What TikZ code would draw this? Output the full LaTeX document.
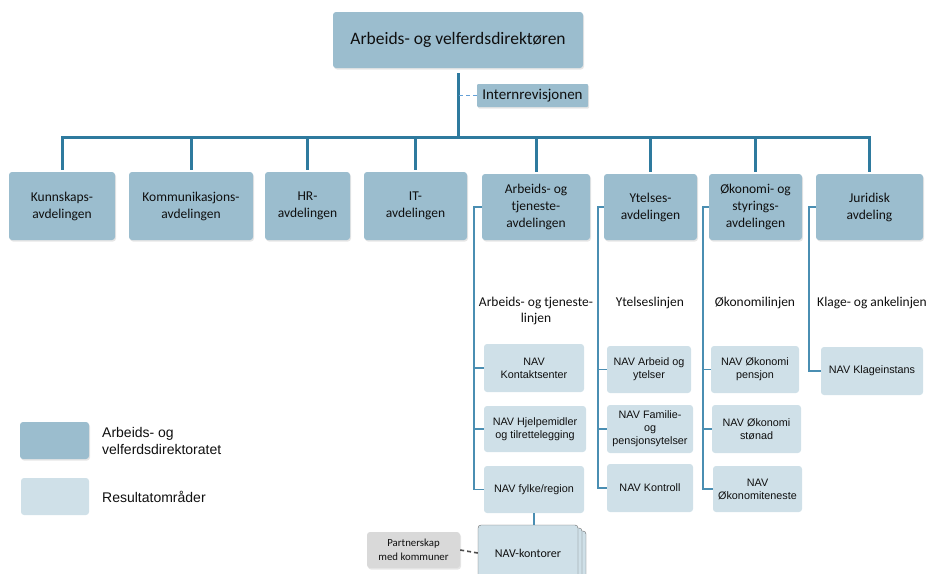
\documentclass[tikz,border=0pt]{standalone}
\usepackage{fontspec}
\setmainfont{Carlito}
\newfontfamily\arialf{Liberation Sans}
\usepackage{tikz}
\usetikzlibrary{positioning,shadows}
\definecolor{navdark} {RGB}{155,189,206}
\definecolor{navlight}{RGB}{207,224,232}
\definecolor{navline} {RGB}{ 46,122,158}
\definecolor{navthin} {RGB}{ 74,142,178}
\definecolor{navdash} {RGB}{100,160,215}
\definecolor{navgray} {RGB}{217,217,217}
\definecolor{navtext} {RGB}{ 15, 15, 15}
\tikzset{
  dirbox/.style={fill=navdark,rounded corners=3pt,align=center,
                 inner sep=2pt,text=navtext,
                 font=\fontsize{13.5}{17}\selectfont,
                 drop shadow={shadow xshift=1pt,shadow yshift=-1.5pt,
                 opacity=0.2}},
  resbox/.style={fill=navlight,rounded corners=3pt,align=center,
                 inner sep=2pt,text=navtext,
                 font=\arialf\fontsize{10.8}{13}\selectfont},
  kontor/.style={resbox,draw=gray!80!black,thin,
                 font=\fontsize{12}{14}\selectfont,
                 double copy shadow={shadow xshift=4pt,shadow yshift=-3pt,
                 fill=navlight,draw=gray!80!black}},
  partbox/.style={fill=navgray,rounded corners=3pt,align=center,
                  inner sep=2pt,text=navtext,
                  font=\fontsize{10.8}{14}\selectfont,
                  drop shadow={shadow xshift=1pt,shadow yshift=-1.5pt,
                  opacity=0.2}},
  coltitle/.style={align=center,inner sep=1pt,text=navtext,
                   font=\fontsize{13.5}{16}\selectfont},
  legtext/.style={align=left,anchor=west,inner sep=0pt,text=navtext,
                  font=\arialf\fontsize{14}{17}\selectfont},
  trunk/.style={draw=navline,line width=3pt},
  branch/.style={draw=navthin,line width=1.6pt},
  irdash/.style={draw=navdash,line width=1.6pt,dash pattern=on 4pt off 3pt},
  partdash/.style={draw=gray!60!black,line width=1.6pt,
                   dash pattern=on 4pt off 3pt},
}
\begin{document}
\begin{tikzpicture}[x=1pt,y=-1pt]
  \useasboundingbox (0,0) rectangle (928,573);
  \clip (0,0) rectangle (928,573);

  % top
  \node[dirbox,minimum width=250,minimum height=56,
        font=\fontsize{17.5}{21}\selectfont](DIR) at (458,40)
        {Arbeids- og velferdsdirektøren};
  \node[dirbox,minimum width=111,minimum height=23,inner sep=1pt,
        rounded corners=1pt,font=\fontsize{15}{18}\selectfont](IREV)
        at (532.5,95.5) {Internrevisjonen};

  % avdelinger
  \node[dirbox,minimum width=106,minimum height=68](KUN) at (62,206)
        {Kunnskaps-\\avdelingen};
  \node[dirbox,minimum width=124,minimum height=68](KOM) at (191,206)
        {Kommunikasjons-\\avdelingen};
  \node[dirbox,minimum width=85,minimum height=68](HR) at (307.5,206)
        {HR-\\avdelingen};
  \node[dirbox,minimum width=103,minimum height=68](IT) at (415.5,206)
        {IT-\\avdelingen};
  \node[dirbox,minimum width=108,minimum height=66](ATA) at (536,207)
        {Arbeids- og\\tjeneste-\\avdelingen};
  \node[dirbox,minimum width=93,minimum height=66](YTA) at (650.5,207)
        {Ytelses-\\avdelingen};
  \node[dirbox,minimum width=93,minimum height=66](OSA) at (755.5,207)
        {Økonomi- og\\styrings-\\avdelingen};
  \node[dirbox,minimum width=107,minimum height=66](JUR) at (869.5,207)
        {Juridisk\\avdeling};

  % linjer
  \node[coltitle](ATL) at (536,311) {Arbeids- og tjeneste-\\linjen};
  \node[coltitle](YTL) at (650,303) {Ytelseslinjen};
  \node[coltitle](OKL) at (755,303) {Økonomilinjen};
  \node[coltitle](KAL) at (872,303) {Klage- og ankelinjen};

  % resultatomraader
  \node[resbox,minimum width=100,minimum height=48](KSE) at (534,368)
        {NAV\\Kontaktsenter};
  \node[resbox,minimum width=102,minimum height=46](HJT) at (535,429)
        {NAV Hjelpemidler\\og tilrettelegging};
  \node[resbox,minimum width=100,minimum height=47](FYL) at (534,489.5)
        {NAV fylke/region};
  \node[resbox,minimum width=84,minimum height=47](AOY) at (649,369.5)
        {NAV Arbeid og\\ytelser};
  \node[resbox,minimum width=86,minimum height=48](FPY) at (650,429)
        {NAV Familie-\\og\\pensjonsytelser};
  \node[resbox,minimum width=86,minimum height=48](KTR) at (650,488)
        {NAV Kontroll};
  \node[resbox,minimum width=88,minimum height=47](OPE) at (755,369.5)
        {NAV Økonomi\\pensjon};
  \node[resbox,minimum width=89,minimum height=48](OST) at (756.5,429)
        {NAV Økonomi\\stønad};
  \node[resbox,minimum width=89,minimum height=46](OTE) at (757.5,489)
        {NAV\\Økonomiteneste};
  \node[resbox,minimum width=102,minimum height=48](KLI) at (872,371)
        {NAV Klageinstans};

  \node[kontor,minimum width=100,minimum height=56](NKO) at (528,553)
        {NAV-kontorer};
  \node[partbox,minimum width=93,minimum height=36](PMK) at (413.5,550)
        {Partnerskap\\med kommuner};

  % legend
  \node[dirbox,minimum width=69,minimum height=37](LG1) at (54.5,440.5) {};
  \node[resbox,minimum width=68,minimum height=37](LG2) at (55,496.5) {};
  \node[legtext](LT1) at (102,441) {Arbeids- og\\velferdsdirektoratet};
  \node[legtext](LT2) at (102,496.5) {Resultatområder};

  % connectors
  \coordinate (BAR) at (458,137);
  \draw[trunk] ([yshift=-5pt]DIR.south) -- (BAR);
  \draw[trunk] ([yshift=2pt]KUN.north) |- (JUR.north |- BAR)
               -- ([yshift=2pt]JUR.north);
  \foreach \d in {KOM,HR,IT,ATA,YTA,OSA}
    \draw[trunk] (\d.north |- BAR) -- ([yshift=2pt]\d.north);
  \draw[irdash] (IREV.west) -- (IREV.west -| BAR);

  \coordinate (ATX) at ([xshift=-8pt]ATA.west);
  \coordinate (YTX) at ([xshift=-6pt]YTA.west);
  \coordinate (OSX) at ([xshift=-6pt]OSA.west);
  \coordinate (JUX) at ([xshift=-7pt]JUR.west);
  \draw[branch] (ATA.west) -- (ATX) |- (FYL.west);
  \draw[branch] (YTA.west) -- (YTX) |- (KTR.west);
  \draw[branch] (OSA.west) -- (OSX) |- (OTE.west);
  \draw[branch] (JUR.west) -- (JUX) |- (KLI.west);
  \foreach \b/\c in {KSE/ATX,HJT/ATX,AOY/YTX,FPY/YTX,OPE/OSX,OST/OSX}
    \draw[branch] (\b.west) -- (\b.west -| \c);
  \draw[branch] (FYL.south) -- (FYL.south |- NKO.north);
  \draw[partdash] (PMK.east) -- (NKO.west);
\end{tikzpicture}
\end{document}
